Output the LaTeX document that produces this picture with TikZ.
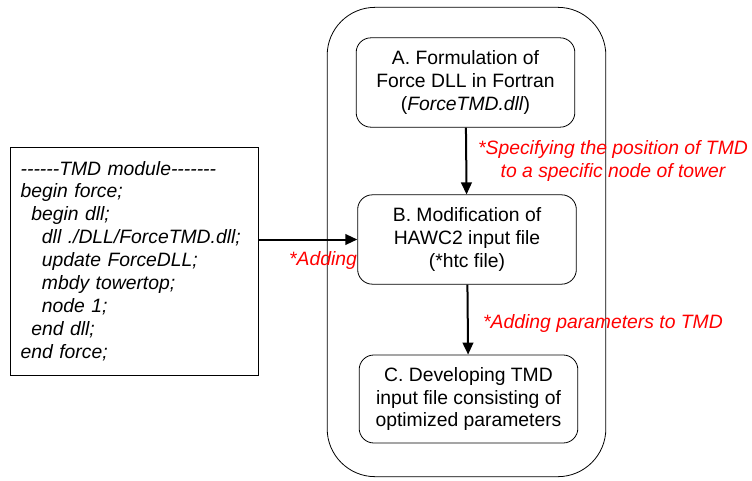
\documentclass[tikz,border=0pt]{standalone}
\usepackage{fontspec}
\setmainfont{Liberation Sans}
\usepackage{xcolor}
\usetikzlibrary{positioning,arrows.meta,calc}

\begin{document}
\begin{tikzpicture}[
  x=0.75pt, y=-0.75pt,
  font=\fontsize{14.5}{17.2}\selectfont, >={Triangle[length=9pt,width=8pt]},
  stage/.style={draw, rounded corners=11pt, align=center, inner sep=2pt,
    minimum width=164pt, minimum height=67pt, line width=0.6pt},
  frame/.style={draw, rounded corners=36pt, minimum width=209pt, minimum height=352pt, line width=0.6pt},
  code/.style={draw, align=left, anchor=center, text width=170pt, inner xsep=8pt,
    minimum height=171pt, font=\fontsize{14.5}{17.2}\selectfont\itshape, line width=0.6pt},
  flow/.style={->, line width=1.5pt},
  remark/.style={text=red, font=\fontsize{14.5}{17.2}\selectfont\itshape, align=center, inner sep=1pt},
]
\useasboundingbox (0,0) rectangle (752,481);
\def\ind{\hspace*{8pt}}
\def\hy{-{}}
\node[frame] (outer) at (466.5,242) {};
\node[stage] (formA) at (465.5,82.5) {A. Formulation of\\Force DLL in Fortran\\(\textit{ForceTMD.dll})};
\node[stage] (modB) at (467,239.5) {B. Modification of\\HAWC2 input file\\(*htc file)};
\node[stage, minimum height=66pt] (devC) at (468.5,399) {C. Developing TMD\\input file consisting of\\optimized parameters};
\node[code] (tmd) at (134,261) {\hy\hy\hy\hy\hy\hy TMD module\hy\hy\hy\hy\hy\hy\hy\\begin force;\\\ind begin dll;\\\ind\ind dll ./DLL/ForceTMD.dll;\\\ind\ind update ForceDLL;\\\ind\ind mbdy towertop;\\\ind\ind node 1;\\\ind end dll;\\end force;};
\draw[flow] (formA) -- (modB);
\draw[flow] (modB) -- (devC);
\draw[flow] (tmd.east |- modB.west) -- (modB.west);
\node[remark] (posnote) at (613,161) {*Specifying the position of TMD\\to a specific node of tower};
\node[remark] (parnote) at (603,323) {*Adding parameters to TMD};
\node[remark] (addnote) at (323,260) {*Adding};
\end{tikzpicture}
\end{document}
